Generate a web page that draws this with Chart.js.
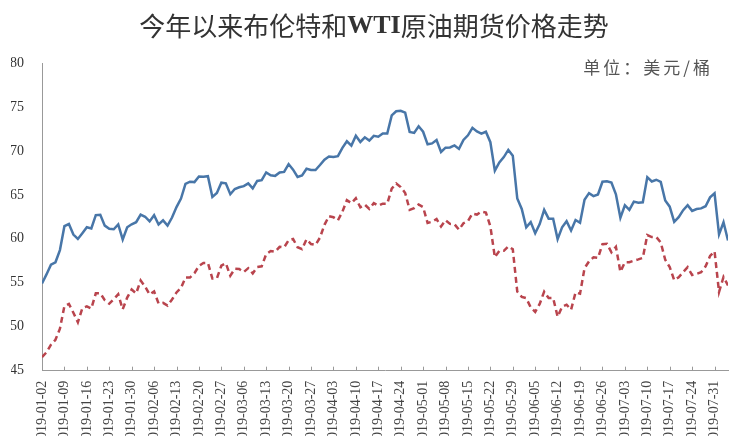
<!DOCTYPE html>
<html>
<head>
<meta charset="utf-8">
<script src="https://cdn.jsdelivr.net/npm/chart.js@4"></script>
<style>
  html, body { margin: 0; padding: 0; background: #fff; overflow: hidden; }
  #wrap { width: 744px; height: 456px; position: relative; }
</style>
</head>
<body>
<div id="wrap"><canvas id="chart"></canvas></div>
<script>
// weekly tick labels (every 5 trading days)
const tickLabels = [
  '2019-01-02', '2019-01-09', '2019-01-16', '2019-01-23', '2019-01-30',
  '2019-02-06', '2019-02-13', '2019-02-20', '2019-02-27',
  '2019-03-06', '2019-03-13', '2019-03-20', '2019-03-27',
  '2019-04-03', '2019-04-10', '2019-04-17', '2019-04-24',
  '2019-05-01', '2019-05-08', '2019-05-15', '2019-05-22', '2019-05-29',
  '2019-06-05', '2019-06-12', '2019-06-19', '2019-06-26',
  '2019-07-03', '2019-07-10', '2019-07-17', '2019-07-24', '2019-07-31'
];

// Brent, one value per weekday from 2019-01-02
const brent = [
  54.91, 55.95, 57.06, 57.33, 58.72, 61.44, 61.68, 60.48, 59.99, 60.64,
  61.32, 61.18, 62.70, 62.74, 61.50, 61.14, 61.09, 61.64, 59.93, 61.32,
  61.65, 61.89, 62.75, 62.51, 61.98, 62.69, 61.63, 62.10, 61.51, 62.42,
  63.61, 64.57, 66.25, 66.50, 66.45, 67.08, 67.07, 67.12, 64.76, 65.21,
  66.39, 66.31, 65.07, 65.67, 65.86, 65.99, 66.30, 65.74, 66.58, 66.67,
  67.55, 67.23, 67.16, 67.54, 67.61, 68.50, 67.86, 67.03, 67.21, 67.97,
  67.83, 67.82, 68.39, 69.01, 69.37, 69.31, 69.40, 70.34, 71.10, 70.61,
  71.73, 71.02, 71.55, 71.18, 71.72, 71.62, 71.97, 71.97, 74.04, 74.51,
  74.57, 74.35, 72.15, 72.04, 72.80, 72.18, 70.75, 70.85, 71.24, 69.88,
  70.37, 70.39, 70.62, 70.23, 71.24, 71.77, 72.62, 72.21, 71.97, 72.18,
  70.99, 67.76, 68.69, 69.30, 70.11, 69.45, 64.60, 63.40, 61.30, 61.90,
  60.63, 61.67, 63.29, 62.29, 62.29, 59.97, 61.31, 62.01, 60.94, 62.14,
  61.82, 64.45, 65.20, 64.86, 65.05, 66.49, 66.55, 66.40, 65.06, 62.40,
  63.82, 63.30, 64.23, 64.11, 64.16, 67.01, 66.52, 66.72, 66.48, 64.35,
  63.66, 61.93, 62.47, 63.26, 63.83, 63.18, 63.39, 63.46, 63.71, 64.72,
  65.17, 60.50, 61.89, 59.81
];

// WTI, same dates
const wti = [
  46.54, 47.09, 47.96, 48.52, 49.78, 52.36, 52.59, 51.59, 50.51, 52.11,
  52.31, 52.07, 53.80, 53.80, 53.01, 52.62, 53.13, 53.69, 51.99, 53.31,
  54.23, 53.79, 55.26, 54.56, 53.66, 54.01, 52.64, 52.72, 52.41, 53.10,
  53.90, 54.41, 55.59, 55.59, 56.09, 56.92, 57.26, 57.26, 55.48, 55.50,
  56.94, 57.22, 55.80, 56.59, 56.56, 56.22, 56.66, 56.07, 56.79, 56.87,
  58.26, 58.61, 58.52, 59.09, 59.03, 59.83, 59.98, 59.04, 58.82, 59.94,
  59.41, 59.30, 60.14, 61.59, 62.58, 62.46, 62.10, 63.08, 64.40, 64.05,
  64.61, 63.58, 63.89, 63.40, 64.05, 63.76, 64.00, 64.00, 65.70, 66.30,
  65.89, 65.21, 63.30, 63.50, 63.91, 63.60, 61.81, 61.94, 62.25, 61.40,
  62.12, 61.70, 61.66, 61.04, 61.78, 62.02, 62.87, 62.76, 63.10, 62.99,
  61.42, 57.91, 58.63, 58.63, 59.14, 58.81, 54.00, 53.40, 53.25, 52.20,
  51.68, 52.59, 53.99, 53.26, 53.27, 51.14, 52.28, 52.51, 51.93, 53.90,
  53.76, 56.65, 57.43, 57.90, 57.83, 59.38, 59.43, 58.47, 59.09, 56.25,
  57.34, 57.34, 57.51, 57.66, 57.83, 60.43, 60.20, 60.21, 59.58, 57.62,
  56.78, 55.30, 55.63, 56.22, 56.77, 55.88, 56.02, 56.20, 56.87, 58.05,
  58.58, 53.95, 55.66, 54.69
];

const titleParts = [
  { text: '今年以来布伦特和', font: 'normal 26px "Noto Sans CJK SC"' },
  { text: 'WTI', font: 'bold 26px "Liberation Serif"' },
  { text: '原油期货价格走势', font: 'normal 26px "Noto Sans CJK SC"' }
];
const unitText = '单位：美元/桶';

const serif = '"Liberation Serif", "Times New Roman", serif';

// title, unit note and the small inward x tick marks
const decorations = {
  id: 'decorations',
  afterDraw(chart) {
    const ctx = chart.ctx;
    const area = chart.chartArea;
    ctx.save();

    ctx.fillStyle = '#333';
    ctx.textBaseline = 'middle';
    ctx.textAlign = 'left';
    let total = 0;
    titleParts.forEach(p => { ctx.font = p.font; total += ctx.measureText(p.text).width; });
    let x = 374 - total / 2;
    titleParts.forEach(p => {
      ctx.font = p.font;
      ctx.fillText(p.text, x, 26);
      x += ctx.measureText(p.text).width;
    });

    ctx.font = '17px "Noto Sans CJK SC"';
    ctx.fillStyle = '#555';
    ctx.letterSpacing = '3px';
    ctx.textAlign = 'right';
    ctx.fillText(unitText, 713, 68);
    ctx.letterSpacing = '0px';

    const xs = chart.scales.x;
    ctx.strokeStyle = '#999';
    ctx.lineWidth = 1;
    ctx.beginPath();
    xs.ticks.forEach(t => {
      const px = Math.round(xs.getPixelForValue(t.value)) + 0.5;
      ctx.moveTo(px, area.bottom);
      ctx.lineTo(px, area.bottom - 4);
    });
    ctx.stroke();
    ctx.restore();
  }
};

new Chart(document.getElementById('chart'), {
  type: 'line',
  data: {
    datasets: [
      {
        label: '布伦特',
        data: brent.map((v, i) => ({ x: i, y: v })),
        borderColor: '#4876a8',
        borderWidth: 2.5,
        pointRadius: 0,
        tension: 0,
      },
      {
        label: 'WTI',
        data: wti.map((v, i) => ({ x: i, y: v })),
        borderColor: '#b9444d',
        borderWidth: 2.5,
        borderDash: [6, 4],
        pointRadius: 0,
        tension: 0,
      }
    ]
  },
  options: {
    responsive: true,
    maintainAspectRatio: false,
    animation: false,
    layout: { padding: { top: 63, left: 11, right: 16, bottom: 0 } },
    scales: {
      x: {
        type: 'linear',
        min: 0,
        max: brent.length - 1,
        afterBuildTicks: (scale) => {
          scale.ticks = tickLabels.map((_, i) => ({ value: i * 5 }));
        },
        // vertical labels don't need the side padding chart.js reserves
        afterFit: (scale) => {
          scale.paddingLeft = 0;
          scale.paddingRight = 0;
        },
        grid: { drawOnChartArea: false, drawTicks: false },
        border: { color: '#999', width: 1 },
        ticks: {
          autoSkip: false,
          minRotation: 90,
          maxRotation: 90,
          padding: 10,
          color: '#444',
          font: { family: serif, size: 14 },
          callback: (value) => tickLabels[value / 5] || '',
        },
      },
      y: {
        min: 45,
        max: 80,
        afterFit: (scale) => {
          scale.width = 31;
        },
        grid: { drawOnChartArea: false, drawTicks: false },
        border: { color: '#999', width: 1 },
        ticks: {
          stepSize: 5,
          padding: 18,
          color: '#333',
          font: { family: serif, size: 14 },
        },
      }
    },
    plugins: {
      legend: { display: false },
      tooltip: { enabled: false },
    }
  },
  plugins: [decorations]
});
</script>
</body>
</html>
